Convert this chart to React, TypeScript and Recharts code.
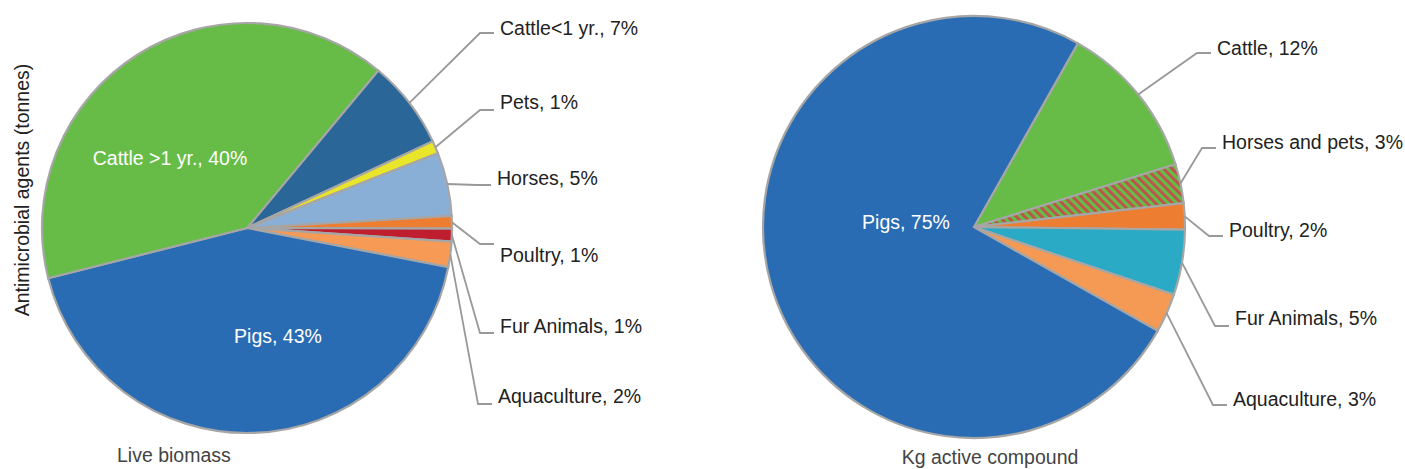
import React from "react";
import { PieChart, Pie, Cell } from "recharts";

// Left pie: live biomass share (clockwise from the Cattle<1 / Cattle>1 edge)
const leftNames = [
  "Cattle<1 yr.",
  "Pets",
  "Horses",
  "Poultry",
  "Fur Animals",
  "Aquaculture",
  "Pigs",
  "Cattle >1 yr.",
];
const leftValues = [7, 1, 5, 1, 1, 2, 43, 40];

// Right pie: kg active compound
const rightNames = [
  "Cattle",
  "Horses and pets",
  "Poultry",
  "Fur Animals",
  "Aquaculture",
  "Pigs",
];
const rightValues = [12, 3, 2, 5, 3, 75];

const leftColors = [
  "#2b6698",
  "#e9e52b",
  "#8aafd6",
  "#ed7d31",
  "#be1e2d",
  "#f79a55",
  "#2a6cb3",
  "#67bc47",
];
const rightColors = [
  "#67bc47",
  "url(#hatchHP)",
  "#ed7d31",
  "#2aaac4",
  "#f59a55",
  "#2a6cb3",
];

// label placement: text x, baseline y, leader elbow y (inside labels are centred, white)
type LabelPos = { tx: number; ty: number; ly: number; inside?: boolean };

const leftLabelPos: LabelPos[] = [
  { tx: 500, ty: 35, ly: 33 },
  { tx: 500, ty: 109, ly: 110 },
  { tx: 497, ty: 185, ly: 185 },
  { tx: 500, ty: 262, ly: 244 },
  { tx: 500, ty: 333, ly: 333 },
  { tx: 498, ty: 403, ly: 404 },
  { tx: 278, ty: 343, ly: 0, inside: true },
  { tx: 170, ty: 165, ly: 0, inside: true },
];

const rightLabelPos: LabelPos[] = [
  { tx: 1217, ty: 55, ly: 53 },
  { tx: 1222, ty: 149, ly: 148 },
  { tx: 1229, ty: 237, ly: 236 },
  { tx: 1235, ty: 325, ly: 326 },
  { tx: 1233, ty: 406, ly: 405 },
  { tx: 906, ty: 229, ly: 0, inside: true },
];

const FONT = "'Liberation Sans', Arial, sans-serif";
const RADIAN = Math.PI / 180;

const leftData = leftNames.map((name, i) => ({ name, value: leftValues[i] }));
const rightData = rightNames.map((name, i) => ({ name, value: rightValues[i] }));

function makeLabel(layout: LabelPos[]) {
  return (props: any) => {
    const { cx, cy, midAngle, outerRadius, index, name, value } = props;
    const pos = layout[index];
    const text = `${name}, ${value}%`;
    if (pos.inside) {
      return (
        <text
          x={pos.tx}
          y={pos.ty}
          textAnchor="middle"
          fill="#ffffff"
          fontFamily={FONT}
          fontSize={19.5}
        >
          {text}
        </text>
      );
    }
    const sx = cx + outerRadius * Math.cos(-midAngle * RADIAN);
    const sy = cy + outerRadius * Math.sin(-midAngle * RADIAN);
    return (
      <g>
        <polyline
          points={`${sx},${sy} ${pos.tx - 20},${pos.ly} ${pos.tx - 6},${pos.ly}`}
          fill="none"
          stroke="#999999"
          strokeWidth={1.8}
        />
        <text
          x={pos.tx}
          y={pos.ty}
          textAnchor="start"
          fill="#222222"
          fontFamily={FONT}
          fontSize={19.5}
        >
          {text}
        </text>
      </g>
    );
  };
}

export default function App() {
  return (
    <div
      style={{
        position: "absolute",
        left: 0,
        top: 0,
        width: 1405,
        height: 469,
        background: "#ffffff",
        fontFamily: FONT,
      }}
    >
      <svg width={0} height={0} style={{ position: "absolute" }}>
        <defs>
          <pattern
            id="hatchHP"
            patternUnits="userSpaceOnUse"
            width={6}
            height={6}
            patternTransform="rotate(-45)"
          >
            <rect width={6} height={6} fill="#67bc47" />
            <rect width={2.8} height={6} fill="#c0504d" />
          </pattern>
        </defs>
      </svg>
      <PieChart
        width={1405}
        height={469}
        margin={{ top: 0, right: 0, bottom: 0, left: 0 }}
      >
        <Pie
          data={leftData}
          dataKey="value"
          nameKey="name"
          cx={247}
          cy={228}
          outerRadius={205}
          startAngle={50.2}
          endAngle={-309.8}
          stroke="#a6a6a6"
          strokeWidth={2.2}
          label={makeLabel(leftLabelPos)}
          labelLine={false}
          isAnimationActive={false}
        >
          {leftData.map((d, i) => (
            <Cell key={d.name} fill={leftColors[i]} />
          ))}
        </Pie>
        <Pie
          data={rightData}
          dataKey="value"
          nameKey="name"
          cx={974}
          cy={227}
          outerRadius={211}
          startAngle={60.5}
          endAngle={-299.5}
          stroke="#a6a6a6"
          strokeWidth={2.2}
          label={makeLabel(rightLabelPos)}
          labelLine={false}
          isAnimationActive={false}
        >
          {rightData.map((d, i) => (
            <Cell key={d.name} fill={rightColors[i]} />
          ))}
        </Pie>
      </PieChart>
      <div
        style={{
          position: "absolute",
          left: 22,
          top: 190,
          transform: "translate(-50%, -50%) rotate(-90deg)",
          whiteSpace: "nowrap",
          fontSize: 19.5,
          color: "#222222",
        }}
      >
        Antimicrobial agents (tonnes)
      </div>
      <div
        style={{
          position: "absolute",
          left: 117,
          top: 443,
          fontSize: 19.5,
          color: "#444444",
          whiteSpace: "nowrap",
          lineHeight: "24px",
        }}
      >
        Live biomass
      </div>
      <div
        style={{
          position: "absolute",
          left: 990,
          top: 445,
          transform: "translateX(-50%)",
          fontSize: 19.5,
          color: "#444444",
          whiteSpace: "nowrap",
          lineHeight: "24px",
        }}
      >
        Kg active compound
      </div>
    </div>
  );
}
